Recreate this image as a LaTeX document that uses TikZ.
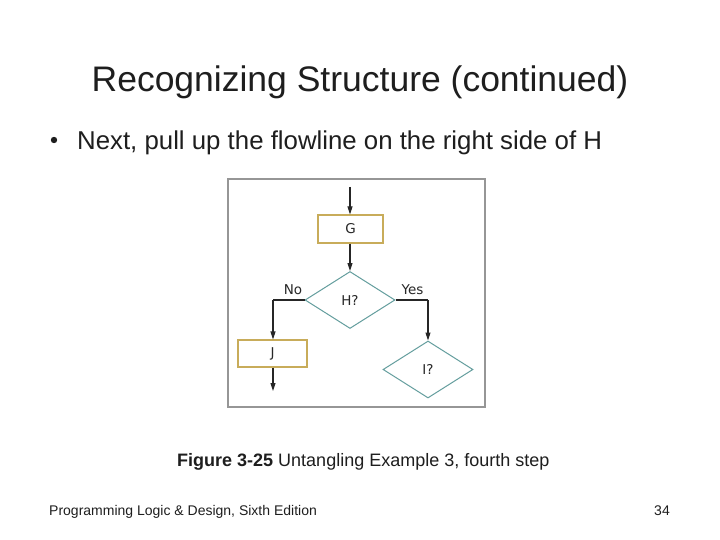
\documentclass[tikz,border=0pt]{standalone}
\usepackage{fontspec}
\setmainfont{Liberation Sans}
\newfontfamily\chartfont{DejaVu Sans}
\usetikzlibrary{shapes.geometric,arrows.meta}
\definecolor{boxline}{RGB}{200,172,90}
\definecolor{decline}{RGB}{100,158,158}
\definecolor{framegray}{RGB}{150,150,150}
\definecolor{txt}{RGB}{30,30,30}
\definecolor{charttxt}{RGB}{40,40,40}
\tikzset{
  procbox/.style={draw=boxline, line width=1.05pt, minimum width=65pt, minimum height=28pt, inner sep=0pt, font=\chartfont\fontsize{13.5}{13.5}\selectfont, text=charttxt},
  decbox/.style={draw=decline, line width=1pt, diamond, aspect=1.58, minimum width=90pt, minimum height=57pt, inner sep=0pt, font=\chartfont\fontsize{13.5}{13.5}\selectfont, text=charttxt},
  flow/.style={draw=black!85, line width=1.05pt, -{Triangle[length=8pt,width=5pt]}},
  flowline/.style={draw=black!85, line width=1.05pt},
  branchlbl/.style={font=\chartfont\fontsize{13.5}{13.5}\selectfont, text=charttxt, inner sep=0pt, anchor=base},
}
\begin{document}
\begin{tikzpicture}[x=1pt,y=-1pt]
\useasboundingbox (0,0) rectangle (720,540);
\fill[white] (0,0) rectangle (720,540);
% title and bullet
\node[anchor=base, font=\fontsize{35.5}{36}\selectfont, text=txt, inner sep=0pt] (title) at (360,92) {Recognizing Structure (continued)};
\fill[txt] (54,140) circle (3.2pt);
\node[anchor=base west, font=\fontsize{25.8}{26}\selectfont, text=txt, inner sep=0pt] (bullet) at (77,150) {Next, pull up the flowline on the right side of H};
% frame
\draw[framegray, line width=1.8pt] (228,179) rectangle (485,407);
% flowchart
\coordinate (start) at (350,187);
\node[procbox] (G) at (350.5,229) {G};
\node[decbox] (H) at (350,300) {H?};
\node[procbox, minimum width=69pt, minimum height=27pt] (J) at (272.5,353.5) {J};
\node[decbox] (I) at (428,369.5) {I?};
\coordinate (jend) at (273,391);
\coordinate (lcorner) at (273,300);
\coordinate (rcorner) at (428,300);
\draw[flow] (start) -- (G.north -| start);
\draw[flow] (G.south -| start) -- (H.north);
\draw[flowline] (H.west) -- (lcorner);
\draw[flow] (lcorner) -- (J.north -| lcorner);
\draw[flowline] (H.east) -- (rcorner);
\draw[flow] (rcorner) -- (I.north);
\draw[flow] (J.south -| jend) -- (jend);
\node[branchlbl] (no) at (293,294) {No};
\node[branchlbl] (yes) at (412.5,294) {Yes};
% caption and footer
\node[anchor=base west, font=\fontsize{18}{18}\selectfont, text=txt, inner sep=0pt] (caption) at (177,466) {\textbf{Figure 3-25} Untangling Example 3, fourth step};
\node[anchor=base west, font=\fontsize{14}{14}\selectfont, text=txt, inner sep=0pt] (footer) at (49,515) {Programming Logic \& Design, Sixth Edition};
\node[anchor=base east, font=\fontsize{14}{14}\selectfont, text=txt, inner sep=0pt] (pagenum) at (670,515) {34};
\end{tikzpicture}
\end{document}
